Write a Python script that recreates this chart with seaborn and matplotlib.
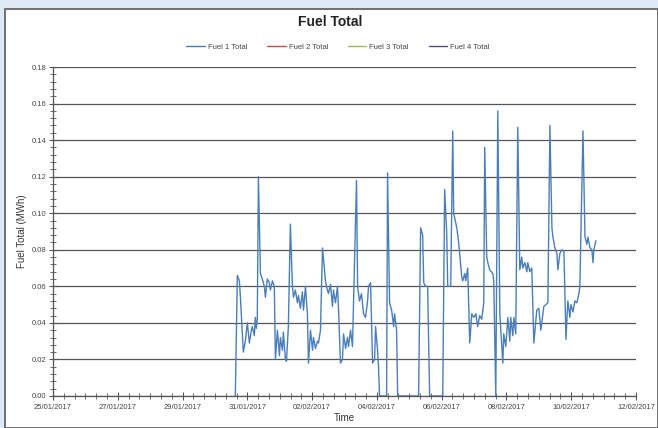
import numpy as np
import pandas as pd
import matplotlib
matplotlib.use("Agg")
import matplotlib.pyplot as plt
import matplotlib.dates as mdates
from matplotlib.lines import Line2D
from matplotlib.patches import Rectangle
import seaborn as sns

# ---- data ----
start_date = "2017-01-25"
hours = [135.1, 136.6, 138.1, 138.8, 141.0, 142.5, 144.0, 145.5, 147.0, 147.7,
         149.2, 149.9, 150.7, 151.4, 152.2, 153.7, 155.1, 156.6, 157.4, 158.8,
         160.3, 161.1, 162.6, 164.0, 164.8, 166.3, 167.8, 168.5, 170.0, 170.7,
         172.2, 173.0, 174.4, 175.9, 177.4, 178.2, 179.6, 181.1, 181.9, 183.3,
         184.8, 185.6, 187.1, 188.5, 189.3, 190.8, 192.3, 193.0, 194.5, 196.0,
         196.7, 198.2, 199.7, 201.9, 202.6, 204.1, 205.6, 207.1, 207.8, 209.3,
         210.8, 211.6, 213.0, 214.5, 215.3, 216.8, 218.2, 219.0, 220.5, 221.9,
         224.9, 225.7, 227.1, 228.6, 230.1, 231.6, 233.1, 233.8, 235.3, 236.8,
         238.3, 239.0, 240.5, 241.2, 242.0, 247.2, 247.9, 249.4, 250.9, 252.4,
         253.1, 254.6, 255.4, 270.9, 272.4, 273.9, 274.7, 276.1, 277.6, 279.1,
         288.8, 290.2, 291.7, 292.5, 294.0, 294.7, 296.2, 296.9, 299.2, 300.6,
         302.9, 303.6, 305.1, 305.8, 307.3, 308.8, 310.3, 311.8, 313.3, 314.7,
         316.2, 317.7, 319.2, 319.9, 321.4, 322.2, 323.6, 325.9, 326.6, 328.1,
         329.6, 331.1, 333.3, 334.0, 335.5, 337.0, 338.5, 339.2, 340.7, 341.5,
         342.9, 344.4, 345.9, 347.4, 348.1, 349.6, 351.1, 351.8, 353.3, 354.8,
         356.3, 358.5, 360.0, 361.5, 363.0, 363.7, 366.7, 368.2, 369.7, 370.4,
         371.9, 373.4, 374.1, 375.6, 377.1, 378.6, 380.1, 381.5, 383.0, 383.8,
         385.3, 386.7, 388.2, 389.7, 390.4, 392.7, 394.2, 395.6, 396.4, 397.9,
         399.3, 400.1, 400.8, 402.3]
fuel1 = [0.0, 0.066, 0.063, 0.055, 0.024, 0.030, 0.040, 0.029, 0.036, 0.038,
         0.033, 0.043, 0.037, 0.043, 0.120, 0.067, 0.064, 0.060, 0.054, 0.064,
         0.062, 0.058, 0.063, 0.060, 0.020, 0.036, 0.022, 0.032, 0.025, 0.035,
         0.020, 0.019, 0.038, 0.094, 0.060, 0.054, 0.058, 0.051, 0.055, 0.048,
         0.057, 0.047, 0.060, 0.045, 0.018, 0.036, 0.025, 0.032, 0.026, 0.030,
         0.029, 0.036, 0.081, 0.063, 0.060, 0.056, 0.061, 0.049, 0.058, 0.051,
         0.060, 0.047, 0.018, 0.020, 0.034, 0.026, 0.032, 0.027, 0.036, 0.027,
         0.118, 0.060, 0.052, 0.056, 0.045, 0.043, 0.052, 0.060, 0.062, 0.018,
         0.020, 0.038, 0.025, 0.016, 0.0, 0.0, 0.122, 0.051, 0.047, 0.038,
         0.045, 0.036, 0.0, 0.0, 0.092, 0.088, 0.062, 0.060, 0.060, 0.0,
         0.0, 0.113, 0.090, 0.060, 0.060, 0.060, 0.145, 0.100, 0.092, 0.084,
         0.065, 0.063, 0.067, 0.063, 0.070, 0.029, 0.045, 0.043, 0.045, 0.038,
         0.044, 0.042, 0.051, 0.136, 0.076, 0.073, 0.069, 0.067, 0.063, 0.0,
         0.156, 0.045, 0.018, 0.034, 0.027, 0.043, 0.030, 0.043, 0.033, 0.043,
         0.034, 0.147, 0.069, 0.076, 0.070, 0.073, 0.068, 0.073, 0.068, 0.070,
         0.029, 0.047, 0.048, 0.036, 0.045, 0.049, 0.051, 0.148, 0.092, 0.087,
         0.081, 0.078, 0.069, 0.078, 0.080, 0.079, 0.031, 0.052, 0.043, 0.050,
         0.046, 0.052, 0.051, 0.056, 0.060, 0.145, 0.087, 0.083, 0.087, 0.081,
         0.080, 0.073, 0.080, 0.085]
series_names = ["Fuel 1 Total", "Fuel 2 Total", "Fuel 3 Total", "Fuel 4 Total"]
series_colors = ["#4A7EBB", "#C0504D", "#9BBB59", "#4F4F6F"]
title = "Fuel Total"
x_label = "Time"
y_label = "Fuel Total (MWh)"
x_start, x_end = "2017-01-25", "2017-02-12"

df = pd.DataFrame({
    "Time": pd.Timestamp(start_date) + pd.to_timedelta(hours, unit="h"),
    "Value": fuel1,
})

# ---- figure ----
sns.set_theme(style="white")
plt.rcParams["font.family"] = ["Liberation Sans", "DejaVu Sans"]

fig = plt.figure(figsize=(6.58, 4.28), dpi=100, facecolor="#dfe9f5")
# white chart area with dark frame
bg = Rectangle((5 / 658, 0), 1 - 5 / 658, 1 - 9 / 428,
               transform=fig.transFigure, facecolor="white",
               edgecolor="#5a5a5a", linewidth=1.2, zorder=-10)
fig.patches.append(bg)

ax = fig.add_axes([53 / 658, (428 - 396) / 428, (636 - 53) / 658, (396 - 67) / 428])
ax.set_zorder(5)
ax.patch.set_alpha(0)

sns.lineplot(data=df, x="Time", y="Value", ax=ax, color=series_colors[0],
             linewidth=1.0, estimator=None, sort=False, legend=False)

ax.set_xlim(pd.Timestamp(x_start), pd.Timestamp(x_end))
ax.set_ylim(0, 0.18)
ax.set_yticks(np.arange(0, 0.181, 0.02))
ax.yaxis.set_major_formatter(matplotlib.ticker.FormatStrFormatter("%.2f"))
ax.yaxis.set_minor_locator(matplotlib.ticker.MultipleLocator(0.004))
ax.xaxis.set_major_locator(mdates.DayLocator(interval=2))
ax.xaxis.set_major_formatter(mdates.DateFormatter("%d/%m/%Y"))
ax.xaxis.set_minor_locator(mdates.HourLocator(byhour=[0, 8, 16]))

ax.grid(axis="y", which="major", color="#555555", linewidth=0.9)
for s in ["top", "right"]:
    ax.spines[s].set_visible(False)
for s in ["left", "bottom"]:
    ax.spines[s].set_color("#555555")
    ax.spines[s].set_linewidth(0.9)

ax.tick_params(axis="both", which="both", bottom=True, left=True)
ax.tick_params(axis="both", which="major", direction="inout", length=6,
               width=0.8, color="#555555", labelsize=5.5, labelcolor="#444444", pad=2)
ax.tick_params(axis="both", which="minor", direction="inout", length=4,
               width=0.6, color="#555555")
ax.tick_params(axis="x", which="major", pad=3)

ax.set_xlabel(x_label, fontsize=7, color="#333333", labelpad=1)
ax.set_ylabel(y_label, fontsize=7, color="#333333", labelpad=3)

fig.text(330 / 658, 1 - 22 / 428, title, ha="center", va="center",
         fontsize=10, fontweight="bold", color="#222222")

handles = [Line2D([0], [0], color=c, linewidth=1.0) for c in series_colors]
fig.legend(handles, series_names, loc="center", bbox_to_anchor=(338 / 658, 1 - 47 / 428),
           ncol=4, frameon=False, fontsize=5.5, handlelength=2.4, columnspacing=2.6,
           handletextpad=0.4, labelcolor="#444444")

fig.savefig("out.png", dpi=100, facecolor=fig.get_facecolor())
